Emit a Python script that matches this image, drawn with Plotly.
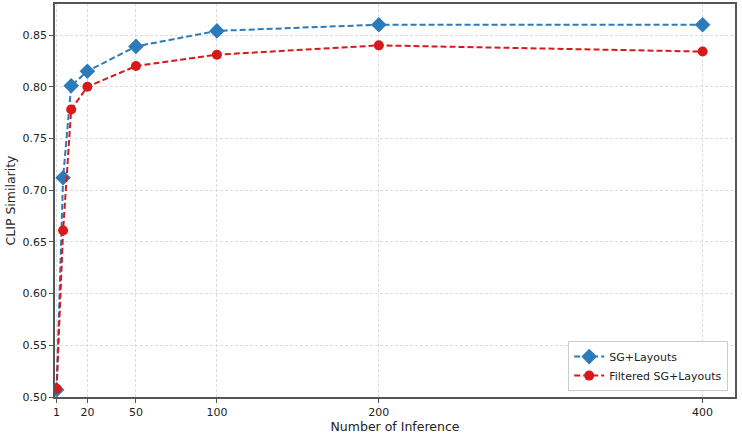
import plotly.graph_objects as go

steps = [1, 5, 10, 20, 50, 100, 200, 400]
sg_layouts = [0.507, 0.712, 0.801, 0.815, 0.839, 0.854, 0.860, 0.860]
filtered_sg_layouts = [0.508, 0.661, 0.778, 0.800, 0.820, 0.831, 0.840, 0.834]
x_ticks = [1, 20, 50, 100, 200, 400]
y_ticks = [0.50, 0.55, 0.60, 0.65, 0.70, 0.75, 0.80, 0.85]

fig = go.Figure()
fig.add_trace(go.Scatter(
    x=steps, y=sg_layouts, name="SG+Layouts", mode="lines+markers",
    line=dict(color="#2b7bba", width=2, dash="6px,3px"),
    marker=dict(symbol="diamond", size=12, color="#2b7bba"),
))
fig.add_trace(go.Scatter(
    x=steps, y=filtered_sg_layouts, name="Filtered SG+Layouts", mode="lines+markers",
    line=dict(color="#d7191c", width=2, dash="6px,3px"),
    marker=dict(symbol="circle", size=10, color="#d7191c"),
))

axis_common = dict(
    showline=True, linecolor="#555555", linewidth=1.5, mirror=True,
    showgrid=True, gridcolor="#dcdcdc", griddash="3px,2px", gridwidth=1,
    ticks="outside", ticklen=4, tickcolor="#555555", zeroline=False,
    automargin=False,
    tickfont=dict(family="DejaVu Sans", size=11, color="#222222"),
)
fig.update_xaxes(
    range=[0, 420], tickvals=x_ticks, ticktext=[str(t) for t in x_ticks],
    title=dict(text="Number of Inference", font=dict(family="DejaVu Sans", size=12.5, color="#222222"), standoff=4),
    **axis_common,
)
fig.update_yaxes(
    range=[0.50, 0.88], tickvals=y_ticks, ticktext=[f"{t:.2f}" for t in y_ticks],
    title=dict(text="CLIP Similarity", font=dict(family="DejaVu Sans", size=12.5, color="#222222"), standoff=4),
    **axis_common,
)
fig.update_layout(
    width=742, height=441,
    margin=dict(l=55, r=7, t=4, b=44),
    plot_bgcolor="white", paper_bgcolor="white",
    font=dict(family="DejaVu Sans", size=11, color="#222222"),
    legend=dict(
        x=0.99, y=0.015, xanchor="right", yanchor="bottom",
        bgcolor="rgba(255,255,255,0.9)", bordercolor="#cccccc", borderwidth=1,
        font=dict(family="DejaVu Sans", size=11), tracegroupgap=0,
    ),
)
fig.write_html(
    "out.html",
    config={"displayModeBar": False},
    post_script="document.body.style.margin='0';document.body.style.overflow='hidden';",
)
